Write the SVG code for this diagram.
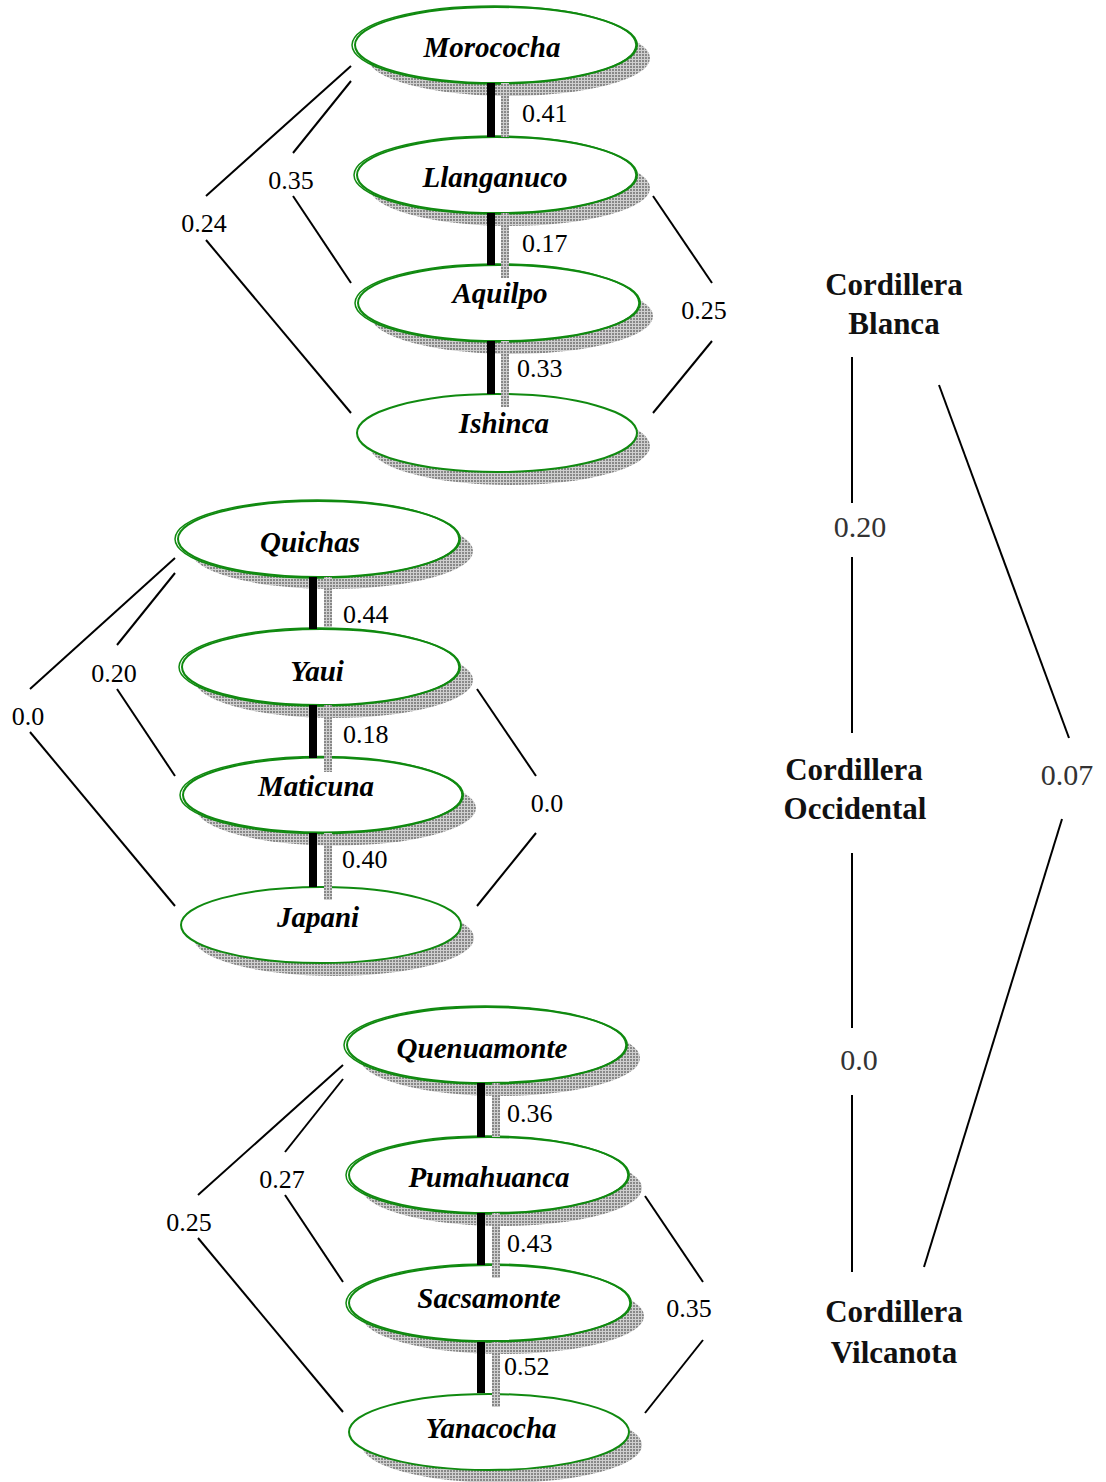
<svg xmlns="http://www.w3.org/2000/svg" width="1106" height="1482" viewBox="0 0 1106 1482">
<defs>
<pattern id="hatch" width="3" height="3" patternUnits="userSpaceOnUse">
<rect width="3" height="3" fill="#cfcfcf"/>
<rect width="2" height="2" fill="#888888"/>
</pattern>
<style>
.sh{fill:url(#hatch);stroke:none}
.el{fill:#fff;stroke:#108a10;stroke-width:2}
.el2{fill:none;stroke:#108a10;stroke-width:1.5}
.nm{font-family:"Liberation Serif",serif;font-weight:bold;font-style:italic;font-size:29px;text-anchor:middle;fill:#000}
.num{font-family:"Liberation Serif",serif;font-size:26px;fill:#000}
.numc{font-family:"Liberation Serif",serif;font-size:26px;fill:#000;text-anchor:middle}
.rnum{font-family:"Liberation Serif",serif;font-size:30px;fill:#333;text-anchor:middle}
.cord{font-family:"Liberation Serif",serif;font-weight:bold;font-size:31px;text-anchor:middle;fill:#111}
.ln{stroke:#000;stroke-width:2;fill:none}
.bar{fill:#000}
.sbar{fill:url(#hatch)}
</style>
</defs>
<rect width="1106" height="1482" fill="#fff"/>

<!-- Top group -->
<g id="morococha">
<ellipse class="sh" cx="509" cy="58" rx="141" ry="38"/>
<ellipse class="el" cx="496" cy="45" rx="141" ry="38"/>
<ellipse class="el2" cx="494" cy="45" rx="142" ry="39"/>
<text class="nm" x="492" y="57">Morococha</text>
</g>
<g id="llanganuco">
<ellipse class="sh" cx="510" cy="188" rx="140" ry="38"/>
<ellipse class="el" cx="497" cy="175" rx="140" ry="38"/>
<ellipse class="el2" cx="495" cy="175" rx="141" ry="39"/>
<text class="nm" x="495" y="187">Llanganuco</text>
</g>
<g id="aquilpo">
<ellipse class="sh" cx="512" cy="316" rx="141" ry="38"/>
<ellipse class="el" cx="499" cy="303" rx="141" ry="38"/>
<ellipse class="el2" cx="497" cy="303" rx="142" ry="39"/>
<text class="nm" x="500" y="303">Aquilpo</text>
</g>
<g id="ishinca">
<ellipse class="sh" cx="510" cy="446" rx="140" ry="39"/>
<ellipse class="el" cx="497" cy="433" rx="140" ry="39"/>
<text class="nm" x="504" y="433">Ishinca</text>
</g>

<!-- Middle group -->
<g id="quichas">
<ellipse class="sh" cx="332" cy="551" rx="141" ry="38"/>
<ellipse class="el" cx="319" cy="539" rx="141" ry="38"/>
<ellipse class="el2" cx="317" cy="539" rx="142" ry="39"/>
<text class="nm" x="310" y="552">Quichas</text>
</g>
<g id="yaui">
<ellipse class="sh" cx="334" cy="680" rx="139" ry="38"/>
<ellipse class="el" cx="321" cy="667" rx="139" ry="38"/>
<ellipse class="el2" cx="319" cy="667" rx="140" ry="39"/>
<text class="nm" x="317" y="681">Yaui</text>
</g>
<g id="maticuna">
<ellipse class="sh" cx="336" cy="808" rx="140" ry="37.5"/>
<ellipse class="el" cx="323" cy="795" rx="140" ry="37.5"/>
<ellipse class="el2" cx="321" cy="795" rx="141" ry="38.5"/>
<text class="nm" x="316" y="796">Maticuna</text>
</g>
<g id="japani">
<ellipse class="sh" cx="334" cy="938" rx="140" ry="38"/>
<ellipse class="el" cx="321" cy="925" rx="140" ry="38"/>
<text class="nm" x="318" y="927">Japani</text>
</g>

<!-- Bottom group -->
<g id="quenuamonte">
<ellipse class="sh" cx="500" cy="1058" rx="140" ry="38"/>
<ellipse class="el" cx="487" cy="1045" rx="140" ry="38"/>
<ellipse class="el2" cx="485" cy="1045" rx="141" ry="39"/>
<text class="nm" x="482" y="1058">Quenuamonte</text>
</g>
<g id="pumahuanca">
<ellipse class="sh" cx="502" cy="1188" rx="140" ry="38"/>
<ellipse class="el" cx="489" cy="1175" rx="140" ry="38"/>
<ellipse class="el2" cx="487" cy="1175" rx="141" ry="39"/>
<text class="nm" x="489" y="1187">Pumahuanca</text>
</g>
<g id="sacsamonte">
<ellipse class="sh" cx="503" cy="1316" rx="141" ry="38"/>
<ellipse class="el" cx="490" cy="1303" rx="141" ry="38"/>
<ellipse class="el2" cx="488" cy="1303" rx="142" ry="39"/>
<text class="nm" x="489" y="1308">Sacsamonte</text>
</g>
<g id="yanacocha">
<ellipse class="sh" cx="502" cy="1445" rx="140" ry="38"/>
<ellipse class="el" cx="489" cy="1432" rx="140" ry="38"/>
<text class="nm" x="491" y="1438">Yanacocha</text>
</g>

<!-- Cordillera nodes -->
<g id="blanca">
<text class="cord" x="894" y="295">Cordillera</text>
<text class="cord" x="894" y="334">Blanca</text>
</g>
<g id="occidental">
<text class="cord" x="854" y="780">Cordillera</text>
<text class="cord" x="855" y="819">Occidental</text>
</g>
<g id="vilcanota">
<text class="cord" x="894" y="1322">Cordillera</text>
<text class="cord" x="894" y="1363">Vilcanota</text>
</g>

<g id="connectors">
<!-- top group bars -->
<rect class="sbar" x="501" y="83" width="8" height="54"/>
<rect class="bar" x="487" y="83" width="8" height="54"/>
<rect class="sbar" x="501" y="213" width="8" height="65"/>
<rect class="bar" x="487" y="213" width="8" height="52"/>
<rect class="sbar" x="501" y="341" width="8" height="66"/>
<rect class="bar" x="487" y="341" width="8" height="53"/>
<text class="num" x="522" y="122">0.41</text>
<text class="num" x="522" y="252">0.17</text>
<text class="num" x="517" y="377">0.33</text>
<line class="ln" x1="351" y1="66" x2="206" y2="196"/>
<line class="ln" x1="206" y1="240" x2="351" y2="413"/>
<text class="numc" x="204" y="232">0.24</text>
<line class="ln" x1="351" y1="81" x2="293" y2="153"/>
<line class="ln" x1="293" y1="196" x2="351" y2="283"/>
<text class="numc" x="291" y="189">0.35</text>
<line class="ln" x1="653" y1="196" x2="712" y2="283"/>
<line class="ln" x1="712" y1="341" x2="653" y2="413"/>
<text class="numc" x="704" y="319">0.25</text>

<!-- middle group bars -->
<rect class="sbar" x="324" y="577" width="8" height="50"/>
<rect class="bar" x="309" y="577" width="8" height="52"/>
<rect class="sbar" x="324" y="705" width="8" height="67"/>
<rect class="bar" x="309" y="705" width="8" height="53"/>
<rect class="sbar" x="324" y="833" width="8" height="67"/>
<rect class="bar" x="309" y="833" width="8" height="54"/>
<text class="num" x="343" y="623">0.44</text>
<text class="num" x="343" y="743">0.18</text>
<text class="num" x="342" y="868">0.40</text>
<line class="ln" x1="175" y1="558" x2="30" y2="689"/>
<line class="ln" x1="30" y1="732" x2="175" y2="906"/>
<text class="numc" x="28" y="725">0.0</text>
<line class="ln" x1="175" y1="573" x2="117" y2="645"/>
<line class="ln" x1="117" y1="689" x2="175" y2="776"/>
<text class="numc" x="114" y="682">0.20</text>
<line class="ln" x1="477" y1="689" x2="536" y2="776"/>
<line class="ln" x1="536" y1="833" x2="477" y2="906"/>
<text class="numc" x="547" y="812">0.0</text>

<!-- bottom group bars -->
<rect class="sbar" x="492" y="1083" width="8" height="54"/>
<rect class="bar" x="477" y="1083" width="8" height="54"/>
<rect class="sbar" x="492" y="1213" width="8" height="65"/>
<rect class="bar" x="477" y="1213" width="8" height="52"/>
<rect class="sbar" x="492" y="1342" width="8" height="65"/>
<rect class="bar" x="477" y="1342" width="8" height="51"/>
<text class="num" x="507" y="1122">0.36</text>
<text class="num" x="507" y="1252">0.43</text>
<text class="num" x="504" y="1375">0.52</text>
<line class="ln" x1="343" y1="1065" x2="198" y2="1195"/>
<line class="ln" x1="198" y1="1238" x2="343" y2="1412"/>
<text class="numc" x="189" y="1231">0.25</text>
<line class="ln" x1="343" y1="1079" x2="285" y2="1152"/>
<line class="ln" x1="285" y1="1195" x2="343" y2="1282"/>
<text class="numc" x="282" y="1188">0.27</text>
<line class="ln" x1="645" y1="1196" x2="703" y2="1282"/>
<line class="ln" x1="703" y1="1340" x2="645" y2="1413"/>
<text class="numc" x="689" y="1317">0.35</text>

<!-- cordillera links -->
<line class="ln" x1="852" y1="357" x2="852" y2="503"/>
<text class="rnum" x="860" y="537">0.20</text>
<line class="ln" x1="852" y1="557" x2="852" y2="733"/>
<line class="ln" x1="852" y1="853" x2="852" y2="1028"/>
<text class="rnum" x="859" y="1070">0.0</text>
<line class="ln" x1="852" y1="1095" x2="852" y2="1272"/>
<line class="ln" x1="939" y1="385" x2="1069" y2="738"/>
<text class="rnum" x="1067" y="785">0.07</text>
<line class="ln" x1="1062" y1="819" x2="924" y2="1267"/>
</g>
</svg>
